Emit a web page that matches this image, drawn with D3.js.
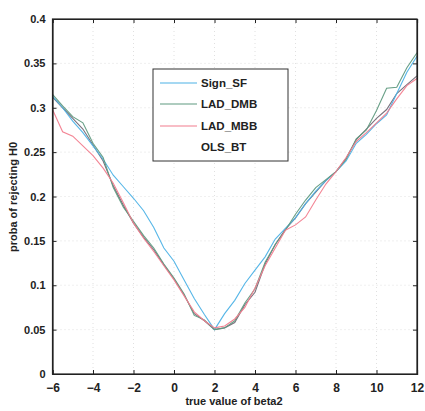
<!DOCTYPE html>
<html><head><meta charset="utf-8">
<script src="https://cdn.jsdelivr.net/npm/d3@7"></script>
<style>
html,body{margin:0;padding:0;background:#fff;}
svg text{font-family:"Liberation Sans Narrow","Liberation Sans",Arial,sans-serif;font-weight:bold;fill:#222;}
</style></head>
<body><svg id="c" width="425" height="411"></svg>
<script>
const betaValues = [-6,-5.5,-5,-4.5,-4,-3.5,-3,-2.5,-2,-1.5,-1,-0.5,0,0.5,1,1.5,2,2.5,3,3.5,4,4.5,5,5.5,6,6.5,7,7.5,8,8.5,9,9.5,10,10.5,11,11.5,12];
const signSF = [0.313,0.300,0.285,0.272,0.257,0.242,0.224,0.211,0.198,0.184,0.165,0.142,0.127,0.106,0.085,0.067,0.050,0.068,0.083,0.102,0.117,0.132,0.152,0.164,0.176,0.192,0.206,0.218,0.228,0.240,0.260,0.270,0.282,0.292,0.316,0.340,0.358];
const ladDMB = [0.315,0.302,0.290,0.283,0.260,0.244,0.210,0.188,0.172,0.156,0.142,0.124,0.108,0.090,0.066,0.061,0.050,0.052,0.060,0.080,0.096,0.126,0.146,0.162,0.180,0.196,0.210,0.219,0.228,0.242,0.265,0.275,0.297,0.322,0.323,0.345,0.362];
const ladMBB = [0.298,0.273,0.268,0.257,0.246,0.232,0.215,0.193,0.170,0.153,0.138,0.122,0.106,0.088,0.070,0.060,0.052,0.054,0.062,0.075,0.097,0.122,0.142,0.162,0.168,0.177,0.196,0.214,0.228,0.244,0.262,0.272,0.283,0.294,0.310,0.325,0.333];
const olsBT = [0.312,0.300,0.288,0.276,0.258,0.240,0.212,0.190,0.170,0.154,0.140,0.123,0.107,0.089,0.068,0.060,0.050,0.052,0.058,0.078,0.092,0.124,0.146,0.163,0.176,0.192,0.205,0.218,0.228,0.243,0.264,0.276,0.288,0.298,0.316,0.326,0.336];
const seriesNames = ["Sign_SF","LAD_DMB","LAD_MBB","OLS_BT"];
const xTicks = [-6,-4,-2,0,2,4,6,8,10,12];
const yTicks = [0,0.05,0.1,0.15,0.2,0.25,0.3,0.35,0.4];
const yTickLabels = ["0","0.05","0.1","0.15","0.2","0.25","0.3","0.35","0.4"];

const svg = d3.select("#c");
const L=52.5, R=417, T=19, B=374;
const x = d3.scaleLinear().domain([-6,12]).range([L,R]);
const y = d3.scaleLinear().domain([0,0.4]).range([B,T]);

// grid
const g = svg.append("g");
g.selectAll(".vg").data(xTicks.slice(1,-1)).join("line")
  .attr("x1",d=>x(d)).attr("x2",d=>x(d)).attr("y1",T).attr("y2",B)
  .attr("stroke","#d8d8d8").attr("stroke-width",0.8).attr("stroke-dasharray","1,3");
g.selectAll(".hg").data(yTicks.slice(1,-1)).join("line")
  .attr("y1",d=>y(d)).attr("y2",d=>y(d)).attr("x1",L).attr("x2",R)
  .attr("stroke","#d8d8d8").attr("stroke-width",0.8).attr("stroke-dasharray","1,3");

// lines
const colors = {"Sign_SF":"#4db2e6","LAD_DMB":"#5f9a80","LAD_MBB":"#f27d8e","OLS_BT":"#4c4252"};
const data = {"Sign_SF":signSF,"LAD_DMB":ladDMB,"LAD_MBB":ladMBB,"OLS_BT":olsBT};
const line = d3.line().x((d,i)=>x(betaValues[i])).y(d=>y(d));
["OLS_BT","Sign_SF","LAD_DMB","LAD_MBB"].forEach(n=>{
  svg.append("path").datum(data[n]).attr("d",line).attr("fill","none")
    .attr("stroke",colors[n]).attr("stroke-width",1.1)
    .attr("stroke-opacity", n==="OLS_BT"?0.75:0.95);
});

// axes
const ax = d3.axisBottom(x).tickValues(xTicks).tickSize(-4).tickPadding(9).tickFormat(d=>d<0?"\u2212"+(-d):d);
const ay = d3.axisLeft(y).tickValues(yTicks).tickSize(-4).tickPadding(7).tickFormat((d,i)=>yTickLabels[i]);
const gx = svg.append("g").attr("transform",`translate(0,${B})`).call(ax);
const gy = svg.append("g").attr("transform",`translate(${L},0)`).call(ay);
svg.append("g").attr("transform",`translate(0,${T})`).call(d3.axisTop(x).tickValues(xTicks).tickSize(-4).tickFormat(""));
svg.append("g").attr("transform",`translate(${R},0)`).call(d3.axisRight(y).tickValues(yTicks).tickSize(-4).tickFormat(""));
svg.selectAll(".domain").attr("stroke","#222").attr("stroke-width",1.2);
svg.selectAll(".tick line").attr("stroke","#222");
gx.selectAll("text").attr("font-size","12px").style("font-family","'Liberation Sans Narrow','Liberation Sans',Arial").style("font-weight","bold").attr("fill","#222");
gy.selectAll("text").attr("font-size","11px").style("font-family","'Liberation Sans Narrow','Liberation Sans',Arial").style("font-weight","bold").attr("fill","#222");
svg.append("rect").attr("x",L).attr("y",T).attr("width",R-L).attr("height",B-T).attr("fill","none").attr("stroke","#222").attr("stroke-width",1.2);

// labels
svg.append("text").attr("x",234).attr("y",405).attr("text-anchor","middle").attr("font-size","11px").text("true value of beta2");
svg.append("text").attr("transform","translate(17,197) rotate(-90)").attr("text-anchor","middle").attr("font-size","11px").text("proba of rejecting H0");

// legend
const lg = svg.append("g");
lg.append("rect").attr("x",153).attr("y",69).attr("width",135).attr("height",92).attr("fill","#fff").attr("stroke","#333").attr("stroke-width",1);
const rows=[83,104,126,147];
seriesNames.forEach((n,i)=>{
  if(n!=="OLS_BT") lg.append("line").attr("x1",160).attr("x2",197).attr("y1",rows[i]).attr("y2",rows[i]).attr("stroke",colors[n]).attr("stroke-width",1.1);
  lg.append("text").attr("x",201).attr("y",rows[i]+4).attr("font-size","11.5px").text(n);
});
</script></body></html>
